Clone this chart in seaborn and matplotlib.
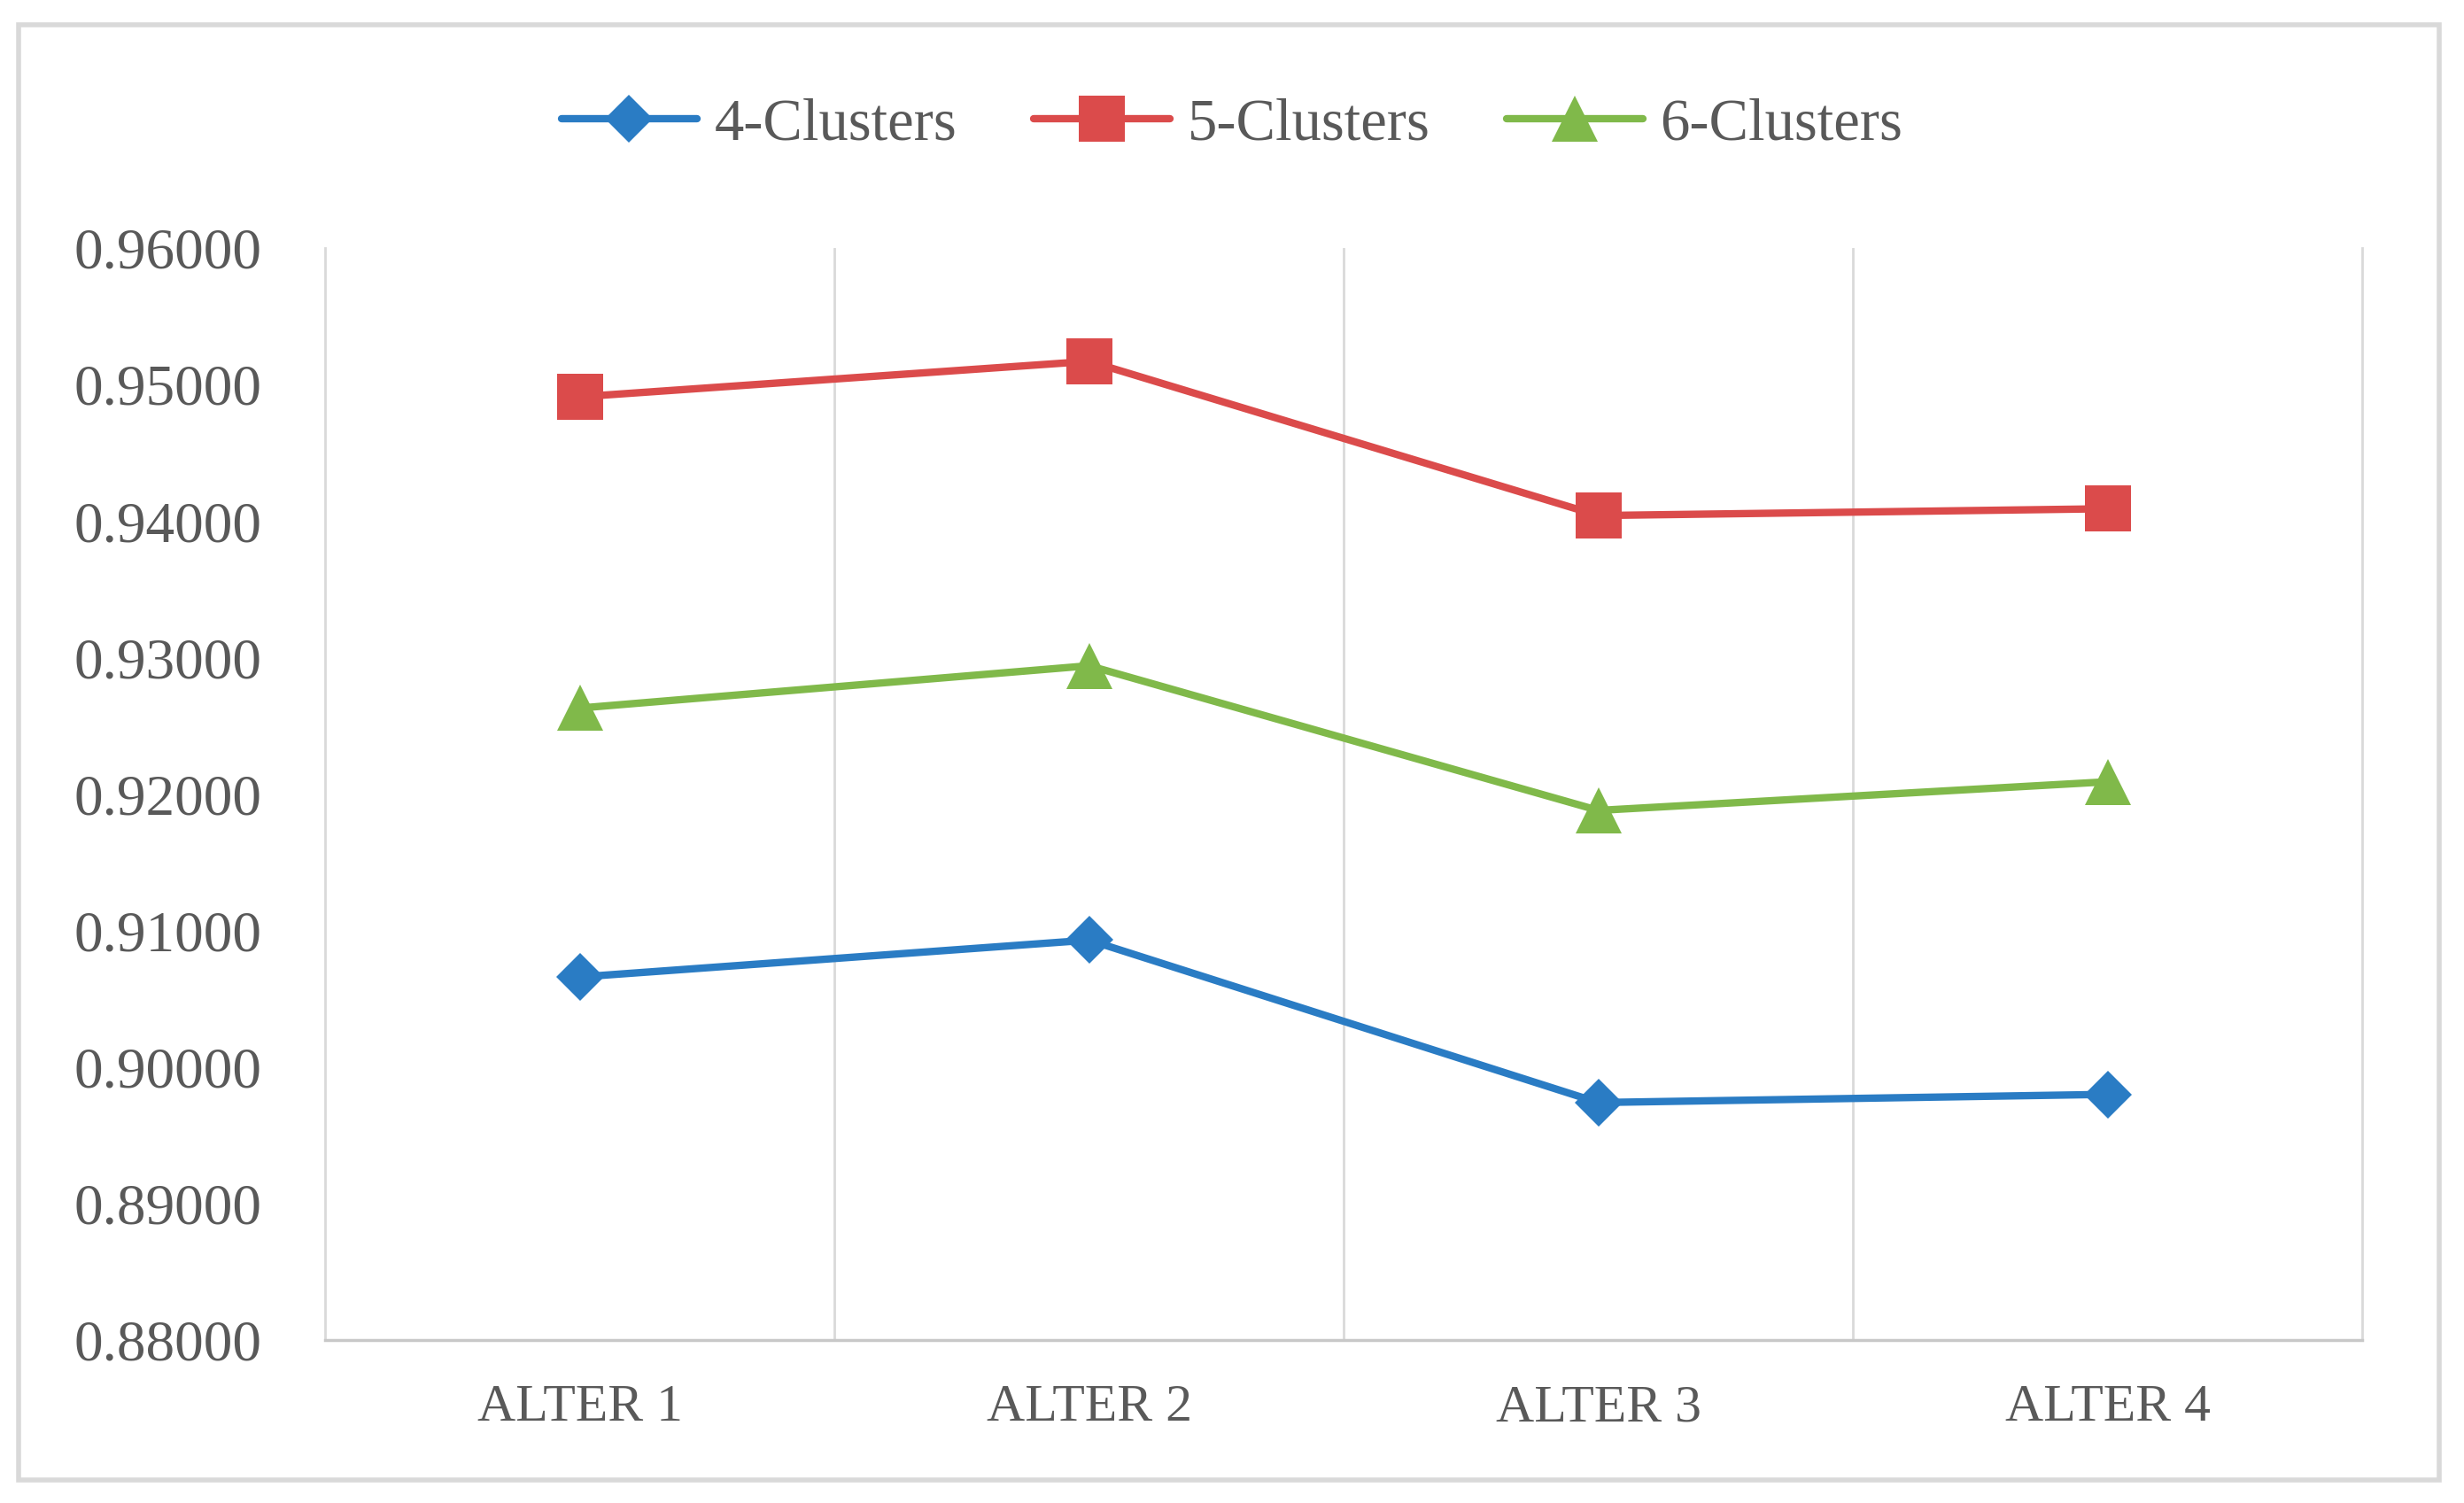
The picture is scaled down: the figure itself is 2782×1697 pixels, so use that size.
import pandas as pd
import seaborn as sns
import matplotlib.pyplot as plt
from matplotlib.patches import Rectangle
from matplotlib.ticker import MultipleLocator, FormatStrFormatter

# data
alters = ['ALTER 1', 'ALTER 2', 'ALTER 3', 'ALTER 4']
clusters4 = [0.9066, 0.9093, 0.8974, 0.8980]
clusters5 = [0.9491, 0.9517, 0.9404, 0.9409]
clusters6 = [0.9263, 0.9294, 0.9188, 0.9209]
series_names = ['4-Clusters', '5-Clusters', '6-Clusters']

colors = {'4-Clusters': '#2a7cc4', '5-Clusters': '#db4b4b', '6-Clusters': '#80b94a'}
markers = {'4-Clusters': 'D', '5-Clusters': 's', '6-Clusters': '^'}
msizes = {'4-Clusters': 27, '5-Clusters': 38, '6-Clusters': 37}

df = pd.DataFrame({
    'alter': alters * 3,
    'value': clusters4 + clusters5 + clusters6,
    'series': [s for s in series_names for _ in alters],
})

sns.set_style('white')
plt.rcParams['font.family'] = ['Liberation Serif', 'DejaVu Serif']
grey = '#595959'

fig = plt.figure(figsize=(27.82, 16.97), dpi=100)
ax = fig.add_axes([0.132, 0.1084, 0.8267, 0.7266])

for name in series_names:
    sub = df[df['series'] == name]
    sns.lineplot(data=sub, x='alter', y='value', ax=ax, color=colors[name],
                 marker=markers[name], markersize=msizes[name], markeredgewidth=0,
                 linewidth=6, label=name, sort=False)

ax.set_xlim(-0.5, 3.5)
ax.set_ylim(0.88, 0.96)
ax.yaxis.set_major_locator(MultipleLocator(0.01))
ax.yaxis.set_major_formatter(FormatStrFormatter('%.5f'))
ax.set_xticks(range(len(alters)))
ax.set_xticklabels(alters)
ax.set_xlabel('')
ax.set_ylabel('')

# vertical gridlines between categories
for xb in [0.5, 1.5, 2.5]:
    ax.axvline(xb, color='#d9d9d9', linewidth=2, zorder=0)
ax.spines['top'].set_visible(False)
for side in ['left', 'right']:
    ax.spines[side].set_color('#d9d9d9')
    ax.spines[side].set_linewidth(2)
ax.spines['bottom'].set_color('#c8c8c8')
ax.spines['bottom'].set_linewidth(2.5)

ax.tick_params(axis='y', length=0, pad=52, labelsize=47, labelcolor=grey)
ax.tick_params(axis='x', length=0, pad=36, labelsize=43, labelcolor=grey)

handles, labels = ax.get_legend_handles_labels()
ax.legend(handles, labels, loc='center', bbox_to_anchor=(0.5, 0.917),
          bbox_transform=fig.transFigure, ncol=3, frameon=False,
          fontsize=48, labelcolor=grey, handlelength=2.3, handletextpad=0.3,
          columnspacing=1.3)

# outer chart border
fig.patches.append(Rectangle((0.0075, 0.0155), 0.9825, 0.968, transform=fig.transFigure,
                             fill=False, edgecolor='#d9d9d9', linewidth=4))

fig.savefig('out.png', dpi=100, facecolor='white')
